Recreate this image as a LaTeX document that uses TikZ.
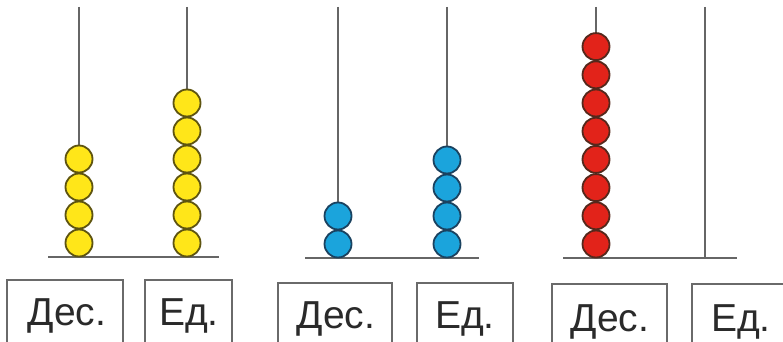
\documentclass[tikz,border=0pt]{standalone}
\usepackage{fontspec}
\setmainfont{Liberation Sans}
\definecolor{rodgray}{HTML}{666666}
\definecolor{boxgray}{HTML}{6A6A6A}
\definecolor{textgray}{HTML}{2A2A2A}
\definecolor{beadyellow}{HTML}{FFE619}
\definecolor{yellowedge}{HTML}{5E5410}
\definecolor{beadblue}{HTML}{1BA4DC}
\definecolor{blueedge}{HTML}{1A4260}
\definecolor{beadred}{HTML}{E2231A}
\definecolor{rededge}{HTML}{55281C}
\begin{document}
\begin{tikzpicture}[x=1pt,y=-1pt,
  rod/.style={draw=rodgray,line width=1.8pt},
  labelbox/.style={draw=boxgray,line width=1.8pt},
  bead/.style={circle,inner sep=0pt,minimum size=27pt,line width=1.8pt},
  ybead/.style={bead,fill=beadyellow,draw=yellowedge},
  bbead/.style={bead,fill=beadblue,draw=blueedge},
  rbead/.style={bead,fill=beadred,draw=rededge},
  lbl/.style={font=\fontsize{39}{42}\selectfont,text=textgray,anchor=base,inner sep=0pt}]
\useasboundingbox (0,0) rectangle (783,342);
\fill[white] (0,0) rectangle (783,342);
\clip (0,0) rectangle (783,342);

% ---------- abacus 1 ----------
\coordinate (a1t) at (79,7);   \coordinate (a1b) at (79,257);
\coordinate (a2t) at (187,7);  \coordinate (a2b) at (187,257);
\coordinate (a3l) at (48,257); \coordinate (a3r) at (219,257);
\draw[rod] (a1t) -- (a1b);
\draw[rod] (a2t) -- (a2b);
\draw[rod] (a3l) -- (a3r);
\foreach \i in {1,...,4} \node[ybead] (ya\i) at (79,{243-(\i-1)*28}) {};
\foreach \i in {1,...,6} \node[ybead] (yb\i) at (187,{243-(\i-1)*28}) {};
\draw[labelbox] (7,350) -- (7,280) -- (123,280) -- (123,350);
\draw[labelbox] (145,350) -- (145,280) -- (232,280) -- (232,350);
\node[lbl] (l1) at (67,325) {Дес.};
\node[lbl] (l2) at (189,325) {Ед.};

% ---------- abacus 2 ----------
\coordinate (b1t) at (338,7);   \coordinate (b1b) at (338,258);
\coordinate (b2t) at (447,7);   \coordinate (b2b) at (447,258);
\coordinate (b3l) at (305,258); \coordinate (b3r) at (479,258);
\draw[rod] (b1t) -- (b1b);
\draw[rod] (b2t) -- (b2b);
\draw[rod] (b3l) -- (b3r);
\foreach \i in {1,...,2} \node[bbead] (ba\i) at (338,{244-(\i-1)*28}) {};
\foreach \i in {1,...,4} \node[bbead] (bb\i) at (447,{244-(\i-1)*28}) {};
\draw[labelbox] (278,350) -- (278,283) -- (392,283) -- (392,350);
\draw[labelbox] (417,350) -- (417,283) -- (513,283) -- (513,350);
\node[lbl] (l3) at (336,328) {Дес.};
\node[lbl] (l4) at (465,328) {Ед.};

% ---------- abacus 3 ----------
\coordinate (c1t) at (596,7);   \coordinate (c1b) at (596,258);
\coordinate (c2t) at (705,7);   \coordinate (c2b) at (705,258);
\coordinate (c3l) at (563,258); \coordinate (c3r) at (737,258);
\draw[rod] (c1t) -- (c1b);
\draw[rod] (c2t) -- (c2b);
\draw[rod] (c3l) -- (c3r);
\foreach \i in {1,...,8} \node[rbead] (ra\i) at (596,{244-(\i-1)*28.2}) {};
\draw[labelbox] (552,350) -- (552,284) -- (667,284) -- (667,350);
\draw[labelbox] (692,350) -- (692,284) -- (800,284);
\node[lbl] (l5) at (610,331) {Дес.};
\node[lbl] (l6) at (741,331) {Ед.};
\end{tikzpicture}
\end{document}
